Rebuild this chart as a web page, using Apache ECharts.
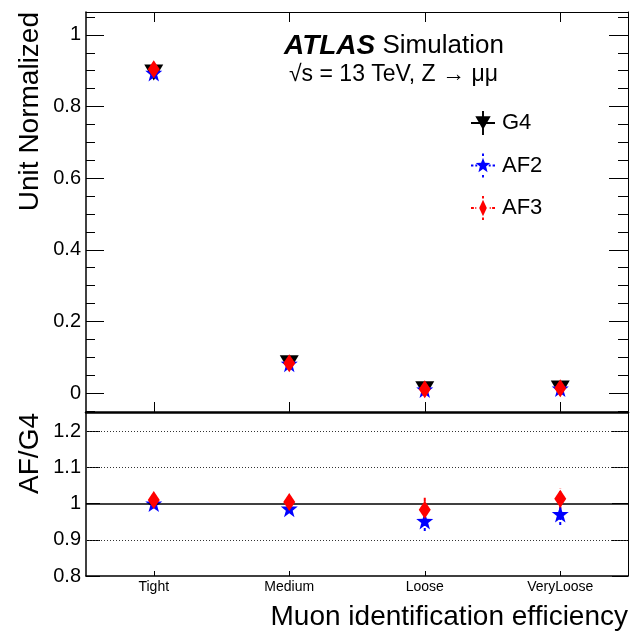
<!DOCTYPE html>
<html>
<head>
<meta charset="utf-8">
<script src="https://cdn.jsdelivr.net/npm/echarts@6/dist/echarts.min.js"></script>
<style>
html,body{margin:0;padding:0;background:#fff;}
#chart{width:640px;height:634px;}
</style>
</head>
<body>
<div id="chart"></div>
<script>
// ---- data ----
const categories = ['Tight', 'Medium', 'Loose', 'VeryLoose'];
const g4Values  = [0.895, 0.083, 0.0106, 0.0128];
const af2Values = [0.894, 0.082, 0.0101, 0.0124];
const af3Values = [0.904, 0.083, 0.0104, 0.0130];
const af2Ratio    = [1.000, 0.986, 0.952, 0.971];
const af2RatioErr = [0.006, 0.010, 0.028, 0.030];
const af3Ratio    = [1.010, 1.004, 0.983, 1.013];
const af3RatioErr = [0.006, 0.010, 0.033, 0.028];
const topMajorTicks = [0, 0.2, 0.4, 0.6, 0.8, 1];
const topMinorTicks = [-0.05, 0.05, 0.1, 0.15, 0.25, 0.3, 0.35, 0.45, 0.5, 0.55, 0.65, 0.7, 0.75, 0.85, 0.9, 0.95, 1.05];
const ratioTicks = [0.8, 0.9, 1, 1.1, 1.2];
const ratioDottedLines = [0.9, 1.1, 1.2];
const ratioSolidLines = [1];

// ---- styling ----
const FONT = '"Liberation Sans", Arial, Helvetica, sans-serif';
const BLACK = '#000000', BLUE = '#0000ff', RED = '#ff0000';
const TRI = 'path://M0 0 L20 0 L10 17 Z';
const STAR = 'path://M50 0 L61.76 33.82 L97.55 34.55 L69.02 56.18 L79.39 90.45 L50 70 L20.61 90.45 L30.98 56.18 L2.45 34.55 L38.24 33.82 Z';
const ICON_G4 = 'path://M0 46 L100 46 L100 54 L0 54 Z M46 0 L54 0 L54 100 L46 100 Z M18 22 L82 22 L50 78 Z';
const ICON_AF2 = 'path://M0 46 L10 46 L10 54 L0 54 Z M18 46 L26 46 L26 54 L18 54 Z M74 46 L82 46 L82 54 L74 54 Z M90 46 L100 46 L100 54 L90 54 Z ' +
  'M46 0 L54 0 L54 10 L46 10 Z M46 90 L54 90 L54 100 L46 100 Z ' +
  'M50 18 L58 39 L80 40 L63 54 L69 78 L50 65 L31 78 L37 54 L20 40 L42 39 Z';
const ICON_AF3 = 'path://M0 46 L12 46 L12 54 L0 54 Z M18 46 L22 46 L22 54 L18 54 Z M78 46 L82 46 L82 54 L78 54 Z M88 46 L100 46 L100 54 L88 54 Z ' +
  'M46 0 L54 0 L54 10 L46 10 Z M46 90 L54 90 L54 100 L46 100 Z ' +
  'M50 16 L66 50 L50 84 L34 50 Z';

function pairs(vals) { return vals.map((v, i) => [categories[i], v]); }
function errTriples(vals, errs) { return vals.map((v, i) => [i, v, errs[i]]); }

function errorBarSeries(name, vals, errs, color, dash) {
  return {
    name: name, type: 'custom', xAxisIndex: 2, yAxisIndex: 4, z: 3,
    silent: true,
    data: errTriples(vals, errs),
    renderItem: function (params, api) {
      const x = api.value(0), y = api.value(1), e = api.value(2);
      const p1 = api.coord([x, y - e]);
      const p2 = api.coord([x, y + e]);
      return {
        type: 'line',
        shape: { x1: p1[0], y1: p1[1], x2: p2[0], y2: p2[1] },
        style: { stroke: color, lineWidth: 2, lineDash: dash }
      };
    }
  };
}

const chart = echarts.init(document.getElementById('chart'), null, { renderer: 'canvas' });

const topMin = -0.053, topMax = 1.064;
const ratioMin = 0.8, ratioMax = 1.25;

function catAxis(grid, position, opts) {
  return Object.assign({
    type: 'category', gridIndex: grid, position: position, data: categories,
    boundaryGap: true,
    axisLine: { show: true, onZero: false, lineStyle: { color: BLACK, width: 1 } },
    axisTick: { show: true, inside: true, alignWithLabel: true, length: 10, lineStyle: { color: BLACK, width: 1 } },
    axisLabel: { show: false },
    splitLine: { show: false }
  }, opts);
}

function valAxis(grid, position, min, max, opts) {
  return Object.assign({
    type: 'value', gridIndex: grid, position: position, min: min, max: max,
    axisLine: { show: true, onZero: false, lineStyle: { color: BLACK, width: 1 } },
    axisLabel: { show: false },
    splitLine: { show: false }
  }, opts);
}

const option = {
  animation: false,
  backgroundColor: '#ffffff',
  textStyle: { fontFamily: FONT },
  grid: [
    { left: 86, top: 12, width: 542, height: 400 },
    { left: 86, top: 413, width: 542, height: 163 }
  ],
  xAxis: [
    catAxis(0, 'bottom', { axisLine: { show: true, onZero: false, lineStyle: { color: BLACK, width: 2.5 } } }),
    catAxis(0, 'top', {}),
    catAxis(1, 'bottom', {
      axisLine: { show: true, onZero: false, lineStyle: { color: BLACK, width: 1.5 } },
      axisTick: { show: true, inside: true, alignWithLabel: true, length: 5, lineStyle: { color: BLACK, width: 1 } },
      axisLabel: { show: true, color: BLACK, fontSize: 14, fontFamily: FONT, margin: 4 }
    })
  ],
  yAxis: [
    valAxis(0, 'left', topMin, topMax, {
      axisLine: { show: true, onZero: false, lineStyle: { color: BLACK, width: 1.5 } },
      axisTick: { show: true, inside: true, length: 18, customValues: topMajorTicks, lineStyle: { color: BLACK, width: 1 } },
      axisLabel: { show: true, customValues: topMajorTicks, color: BLACK, fontSize: 20, fontFamily: FONT, margin: 5 }
    }),
    valAxis(0, 'left', topMin, topMax, {
      axisLine: { show: false },
      axisTick: { show: true, inside: true, length: 9, customValues: topMinorTicks, lineStyle: { color: BLACK, width: 1 } }
    }),
    valAxis(0, 'right', topMin, topMax, {
      axisTick: { show: true, inside: true, length: 19, customValues: topMajorTicks, lineStyle: { color: BLACK, width: 1 } }
    }),
    valAxis(0, 'right', topMin, topMax, {
      axisLine: { show: false },
      axisTick: { show: true, inside: true, length: 10, customValues: topMinorTicks, lineStyle: { color: BLACK, width: 1 } }
    }),
    valAxis(1, 'left', ratioMin, ratioMax, {
      axisLine: { show: true, onZero: false, lineStyle: { color: BLACK, width: 1.5 } },
      axisTick: { show: true, inside: true, length: 14, customValues: ratioTicks, lineStyle: { color: BLACK, width: 1 } },
      axisLabel: { show: true, customValues: ratioTicks, color: BLACK, fontSize: 20, fontFamily: FONT, margin: 5 }
    }),
    valAxis(1, 'right', ratioMin, ratioMax, {
      axisTick: { show: true, inside: true, length: 16, customValues: ratioTicks, lineStyle: { color: BLACK, width: 1 } }
    })
  ],
  legend: {
    orient: 'vertical', left: 471, top: 111, padding: 0,
    itemWidth: 26, itemHeight: 24, itemGap: 18.5,
    selectedMode: false,
    textStyle: { fontSize: 22, color: BLACK, fontFamily: FONT, padding: [0, 0, 0, 1] },
    data: [
      { name: 'G4', icon: ICON_G4, itemStyle: { color: BLACK } },
      { name: 'AF2', icon: ICON_AF2, itemStyle: { color: BLUE } },
      { name: 'AF3', icon: ICON_AF3, itemStyle: { color: RED } }
    ]
  },
  graphic: [
    { type: 'text', x: 284, y: 46, style: {
        text: '{a|ATLAS}{b| Simulation}', textVerticalAlign: 'middle',
        rich: {
          a: { fontSize: 28, fontWeight: 'bold', fontStyle: 'italic', fontFamily: FONT, fill: BLACK },
          b: { fontSize: 26, fontFamily: FONT, fill: BLACK }
        } } },
    { type: 'text', x: 289, y: 75, style: {
        text: '√s = 13 TeV, Z → μμ', font: '23px ' + FONT, fill: BLACK, textVerticalAlign: 'middle' } },
    { type: 'text', x: 30, y: 12, rotation: Math.PI / 2, style: {
        text: 'Unit Normalized', font: '28px ' + FONT, fill: BLACK, textAlign: 'right', textVerticalAlign: 'middle' } },
    { type: 'text', x: 30, y: 413, rotation: Math.PI / 2, style: {
        text: 'AF/G4', font: '28px ' + FONT, fill: BLACK, textAlign: 'right', textVerticalAlign: 'middle' } },
    { type: 'text', x: 628, y: 617, style: {
        text: 'Muon identification efficiency', font: '28px ' + FONT, fill: BLACK, textAlign: 'right', textVerticalAlign: 'middle' } }
  ],
  series: [
    { name: 'G4', type: 'scatter', xAxisIndex: 0, yAxisIndex: 0, z: 2,
      symbol: TRI, symbolSize: [19, 16], itemStyle: { color: BLACK, opacity: 1 }, data: pairs(g4Values) },
    { name: 'AF2', type: 'scatter', xAxisIndex: 0, yAxisIndex: 0, z: 3,
      symbol: STAR, symbolSize: 17, itemStyle: { color: BLUE, opacity: 1 }, data: pairs(af2Values) },
    { name: 'AF3', type: 'scatter', xAxisIndex: 0, yAxisIndex: 0, z: 4,
      symbol: 'diamond', symbolSize: [12, 18], itemStyle: { color: RED, opacity: 1 }, data: pairs(af3Values) },

    errorBarSeries('AF2 err', af2Ratio, af2RatioErr, BLUE, [3, 2]),
    { name: 'AF2', type: 'scatter', xAxisIndex: 2, yAxisIndex: 4, z: 4,
      symbol: STAR, symbolSize: 17, itemStyle: { color: BLUE, opacity: 1 }, data: pairs(af2Ratio),
      markLine: {
        silent: true, symbol: 'none', label: { show: false }, animation: false,
        data: ratioDottedLines.map(v => ({ yAxis: v, lineStyle: { color: '#333', width: 1, type: [1, 2] } }))
          .concat(ratioSolidLines.map(v => ({ yAxis: v, lineStyle: { color: BLACK, width: 1.5, type: 'solid' } })))
      } },
    errorBarSeries('AF3 err', af3Ratio, af3RatioErr, RED, [5, 2, 1, 2]),
    { name: 'AF3', type: 'scatter', xAxisIndex: 2, yAxisIndex: 4, z: 6,
      symbol: 'diamond', symbolSize: [12, 18], itemStyle: { color: RED, opacity: 1 }, data: pairs(af3Ratio) }
  ]
};
chart.setOption(option);
</script>
</body>
</html>
